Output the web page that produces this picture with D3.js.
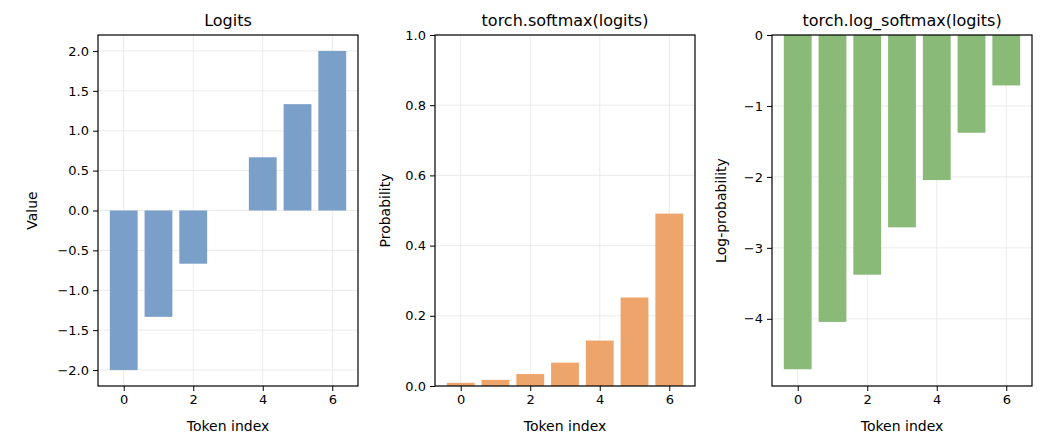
<!DOCTYPE html>
<html><head><meta charset="utf-8">
<script src="https://cdn.jsdelivr.net/npm/d3@7"></script>
<style>body{margin:0;background:#fff}svg{font-family:"DejaVu Sans",sans-serif}</style>
</head><body><svg id="c" width="1041" height="448"></svg>
<script>
const tokens = [0,1,2,3,4,5,6];
const logits = [-2.0,-1.333,-0.667,0.0,0.667,1.333,2.0];
const softmaxVals = [0.0090,0.0175,0.0341,0.0665,0.1295,0.2522,0.4912];
const logSoftmaxVals = [-4.711,-4.044,-3.378,-2.711,-2.044,-1.378,-0.711];
const titles = ["Logits","torch.softmax(logits)","torch.log_softmax(logits)"];
const yLabels = ["Value","Probability","Log-probability"];
const xTicks = [0,2,4,6];
const yTicks1 = [-2.0,-1.5,-1.0,-0.5,0.0,0.5,1.0,1.5,2.0];
const yTicks2 = [0.0,0.2,0.4,0.6,0.8,1.0];
const yTicks3 = [0,-1,-2,-3,-4];

const panels = [
 {data:logits, dom:[-2.2,2.2], ticks:yTicks1, fmt:d=>(d<0?"\u2212":"")+Math.abs(d).toFixed(1), color:"#7a9fc9", left:98},
 {data:softmaxVals, dom:[0,1], ticks:yTicks2, fmt:d3.format(".1f"), color:"#eea56c", left:435},
 {data:logSoftmaxVals, dom:[-4.947,0], ticks:yTicks3, fmt:d=>d<0?"\u2212"+(-d):String(d), color:"#8aba78", left:772}
];
const svg = d3.select("#c");
const pTop=35, pBottom=386, W=260;
panels.forEach((p,i)=>{
  const g = svg.append("g");
  const x = d3.scaleLinear().domain([-0.74,6.74]).range([p.left,p.left+W]);
  const y = d3.scaleLinear().domain(p.dom).range([pBottom,pTop]);
  g.selectAll(".gx").data(xTicks).enter().append("line")
   .attr("x1",d=>x(d)).attr("x2",d=>x(d)).attr("y1",pTop).attr("y2",pBottom)
   .attr("stroke","#e6e6e6").attr("stroke-width",0.8);
  g.selectAll(".gy").data(p.ticks).enter().append("line")
   .attr("x1",p.left).attr("x2",p.left+W).attr("y1",d=>y(d)).attr("y2",d=>y(d))
   .attr("stroke","#e6e6e6").attr("stroke-width",0.8);
  const bw = x(0.8)-x(0);
  g.selectAll(".b").data(tokens).enter().append("rect")
   .attr("x",d=>x(d-0.4)).attr("width",bw)
   .attr("y",d=>y(Math.max(0,p.data[d]))).attr("height",d=>Math.abs(y(p.data[d])-y(0)))
   .attr("fill",p.color);
  const ax = g.append("g").attr("transform",`translate(0,${pBottom})`)
   .call(d3.axisBottom(x).tickValues(xTicks).tickSize(5).tickPadding(4));
  const ay = g.append("g").attr("transform",`translate(${p.left},0)`)
   .call(d3.axisLeft(y).tickValues(p.ticks).tickFormat(p.fmt).tickSize(5).tickPadding(4));
  [ax,ay].forEach(a=>{a.select(".domain").remove();a.selectAll("text").attr("font-size",13).attr("fill","#000").attr("font-family","DejaVu Sans");a.selectAll("line").attr("stroke","#000");});
  g.append("rect").attr("x",p.left).attr("y",pTop).attr("width",W).attr("height",pBottom-pTop)
   .attr("fill","none").attr("stroke","#000").attr("stroke-width",1.2);
  g.append("text").attr("x",p.left+W/2).attr("y",pTop-9).attr("text-anchor","middle")
   .attr("font-size",16).text(titles[i]);
  g.append("text").attr("x",p.left+W/2).attr("y",pBottom+45).attr("text-anchor","middle")
   .attr("font-size",14).text("Token index");
  const lx = p.left-(i===0?61:(i===1?45:46));
  g.append("text").attr("transform",`translate(${lx},${(pTop+pBottom)/2}) rotate(-90)`)
   .attr("text-anchor","middle").attr("font-size",14).text(yLabels[i]);
});
</script></body></html>
